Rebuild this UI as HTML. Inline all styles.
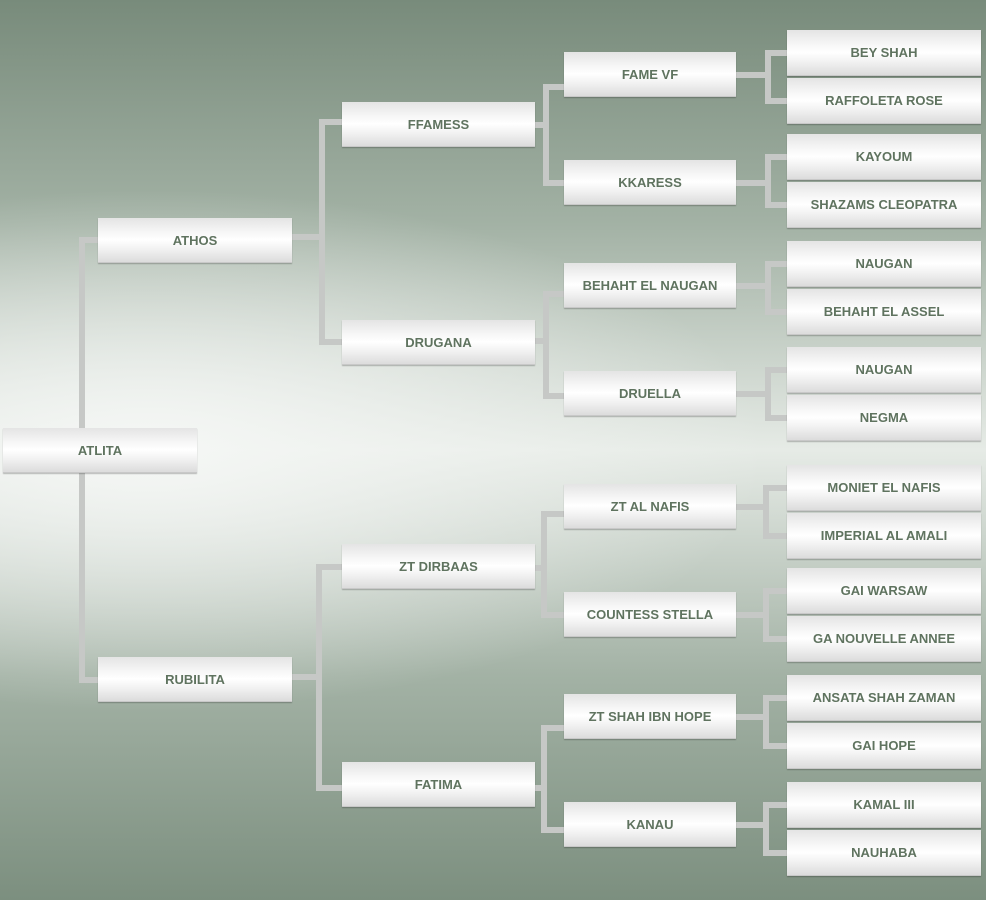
<!DOCTYPE html>
<html><head><meta charset="utf-8"><style>
html,body{margin:0;padding:0}
body{width:986px;height:900px;position:relative;overflow:hidden;
background:
radial-gradient(ellipse 620px 260px at 15% 50%, rgba(245,247,245,1) 0%, rgba(245,247,245,0.6) 40%, rgba(245,247,245,0) 100%),
linear-gradient(180deg,#788b7b 0%,#a3b2a5 25%,#e6ebe6 50%,#a3b2a5 75%,#7c8f7f 100%);
font-family:"Liberation Sans",Arial,sans-serif;}
.b{position:absolute;height:45px;display:flex;align-items:center;justify-content:center;
font-weight:bold;font-size:13px;color:#5f735f;
background:linear-gradient(180deg,#e4e4e4 0%,#f8f8f8 35%,#ffffff 50%,#f2f2f2 70%,#dcdcdc 100%);
box-shadow:0 1px 1px rgba(0,0,0,0.25);border-bottom:1px solid #c8c8c8;box-sizing:border-box}
.l{position:absolute;background:#c6c8c6}
.c0{left:3px;width:194px}.c1{left:98px;width:194px}.c2{left:342px;width:193px}.c3{left:564px;width:172px}.c4{left:787px;width:194px;height:46px}
</style></head><body>
<!-- level0 lines -->
<div class="l" style="left:79px;top:237px;width:6px;height:446px"></div>
<div class="l" style="left:79px;top:237px;width:20px;height:6px"></div>
<div class="l" style="left:79px;top:677px;width:20px;height:6px"></div>
<!-- level1 lines -->
<div class="l" style="left:292px;top:234px;width:30px;height:6px"></div>
<div class="l" style="left:319px;top:119px;width:6px;height:226px"></div>
<div class="l" style="left:319px;top:119px;width:24px;height:6px"></div>
<div class="l" style="left:319px;top:339px;width:24px;height:6px"></div>
<div class="l" style="left:292px;top:674px;width:28px;height:6px"></div>
<div class="l" style="left:316px;top:564px;width:6px;height:227px"></div>
<div class="l" style="left:316px;top:564px;width:27px;height:6px"></div>
<div class="l" style="left:316px;top:785px;width:27px;height:6px"></div>
<!-- level2 lines -->
<div class="l" style="left:535px;top:122px;width:12px;height:6px"></div>
<div class="l" style="left:543px;top:84px;width:6px;height:102px"></div>
<div class="l" style="left:543px;top:84px;width:22px;height:6px"></div>
<div class="l" style="left:543px;top:180px;width:22px;height:6px"></div>
<div class="l" style="left:535px;top:338px;width:12px;height:6px"></div>
<div class="l" style="left:543px;top:291px;width:6px;height:108px"></div>
<div class="l" style="left:543px;top:291px;width:22px;height:6px"></div>
<div class="l" style="left:543px;top:393px;width:22px;height:6px"></div>
<div class="l" style="left:535px;top:565px;width:12px;height:6px"></div>
<div class="l" style="left:541px;top:511px;width:6px;height:107px"></div>
<div class="l" style="left:541px;top:511px;width:24px;height:6px"></div>
<div class="l" style="left:541px;top:612px;width:24px;height:6px"></div>
<div class="l" style="left:535px;top:785px;width:12px;height:6px"></div>
<div class="l" style="left:541px;top:725px;width:6px;height:108px"></div>
<div class="l" style="left:541px;top:725px;width:24px;height:6px"></div>
<div class="l" style="left:541px;top:827px;width:24px;height:6px"></div>
<!-- level3 lines -->
<div class="l" style="left:736px;top:72px;width:32px;height:6px"></div>
<div class="l" style="left:765px;top:50px;width:6px;height:54px"></div>
<div class="l" style="left:765px;top:50px;width:23px;height:6px"></div>
<div class="l" style="left:765px;top:98px;width:23px;height:6px"></div>

<div class="l" style="left:736px;top:180px;width:32px;height:6px"></div>
<div class="l" style="left:765px;top:154px;width:6px;height:54px"></div>
<div class="l" style="left:765px;top:154px;width:23px;height:6px"></div>
<div class="l" style="left:765px;top:202px;width:23px;height:6px"></div>

<div class="l" style="left:736px;top:283px;width:32px;height:6px"></div>
<div class="l" style="left:765px;top:261px;width:6px;height:54px"></div>
<div class="l" style="left:765px;top:261px;width:23px;height:6px"></div>
<div class="l" style="left:765px;top:309px;width:23px;height:6px"></div>

<div class="l" style="left:736px;top:391px;width:32px;height:6px"></div>
<div class="l" style="left:765px;top:367px;width:6px;height:54px"></div>
<div class="l" style="left:765px;top:367px;width:23px;height:6px"></div>
<div class="l" style="left:765px;top:415px;width:23px;height:6px"></div>

<div class="l" style="left:736px;top:504px;width:32px;height:6px"></div>
<div class="l" style="left:763px;top:485px;width:6px;height:54px"></div>
<div class="l" style="left:763px;top:485px;width:25px;height:6px"></div>
<div class="l" style="left:763px;top:533px;width:25px;height:6px"></div>

<div class="l" style="left:736px;top:612px;width:32px;height:6px"></div>
<div class="l" style="left:763px;top:588px;width:6px;height:54px"></div>
<div class="l" style="left:763px;top:588px;width:25px;height:6px"></div>
<div class="l" style="left:763px;top:636px;width:25px;height:6px"></div>

<div class="l" style="left:736px;top:714px;width:32px;height:6px"></div>
<div class="l" style="left:763px;top:695px;width:6px;height:54px"></div>
<div class="l" style="left:763px;top:695px;width:25px;height:6px"></div>
<div class="l" style="left:763px;top:743px;width:25px;height:6px"></div>

<div class="l" style="left:736px;top:822px;width:32px;height:6px"></div>
<div class="l" style="left:763px;top:802px;width:6px;height:54px"></div>
<div class="l" style="left:763px;top:802px;width:25px;height:6px"></div>
<div class="l" style="left:763px;top:850px;width:25px;height:6px"></div>

<div class="b c0" style="top:428px">ATLITA</div>
<div class="b c1" style="top:218px">ATHOS</div>
<div class="b c1" style="top:657px">RUBILITA</div>
<div class="b c2" style="top:102px">FFAMESS</div>
<div class="b c2" style="top:320px">DRUGANA</div>
<div class="b c2" style="top:544px">ZT DIRBAAS</div>
<div class="b c2" style="top:762px">FATIMA</div>
<div class="b c3" style="top:52px">FAME VF</div>
<div class="b c3" style="top:160px">KKARESS</div>
<div class="b c3" style="top:263px">BEHAHT EL NAUGAN</div>
<div class="b c3" style="top:371px">DRUELLA</div>
<div class="b c3" style="top:484px">ZT AL NAFIS</div>
<div class="b c3" style="top:592px">COUNTESS STELLA</div>
<div class="b c3" style="top:694px">ZT SHAH IBN HOPE</div>
<div class="b c3" style="top:802px">KANAU</div>
<div class="b c4" style="top:30px">BEY SHAH</div>
<div class="b c4" style="top:78px">RAFFOLETA ROSE</div>
<div class="b c4" style="top:134px">KAYOUM</div>
<div class="b c4" style="top:182px">SHAZAMS CLEOPATRA</div>
<div class="b c4" style="top:241px">NAUGAN</div>
<div class="b c4" style="top:289px">BEHAHT EL ASSEL</div>
<div class="b c4" style="top:347px">NAUGAN</div>
<div class="b c4" style="top:395px">NEGMA</div>
<div class="b c4" style="top:465px">MONIET EL NAFIS</div>
<div class="b c4" style="top:513px">IMPERIAL AL AMALI</div>
<div class="b c4" style="top:568px">GAI WARSAW</div>
<div class="b c4" style="top:616px">GA NOUVELLE ANNEE</div>
<div class="b c4" style="top:675px">ANSATA SHAH ZAMAN</div>
<div class="b c4" style="top:723px">GAI HOPE</div>
<div class="b c4" style="top:782px">KAMAL III</div>
<div class="b c4" style="top:830px">NAUHABA</div>
</body></html>
